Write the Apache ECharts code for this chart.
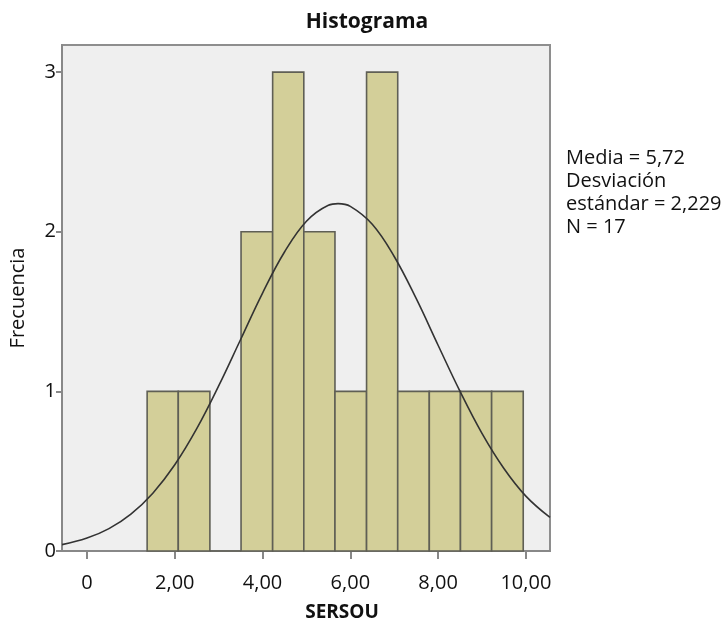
<!DOCTYPE html>
<html>
<head>
<meta charset="utf-8">
<script src="https://cdn.jsdelivr.net/npm/echarts@6/dist/echarts.min.js"></script>
<style>
  html, body { margin: 0; padding: 0; background: #fff; }
  #chart { width: 723px; height: 627px; }
</style>
</head>
<body>
<div id="chart"></div>
<script>
// bin edges (SERSOU) and counts per bin
var binEdges = [1.37, 2.08, 2.80, 3.51, 4.23, 4.94, 5.65, 6.37, 7.08, 7.80, 8.51, 9.22, 9.94]
var binCounts = [1, 1, 0, 2, 3, 2, 1, 3, 1, 1, 1, 1]

// normal curve
var curveX = [-0.57, 0, 0.5, 1, 1.5, 2, 2.5, 3, 3.5, 4, 4.5, 5, 5.5, 5.72, 6, 6.5, 7, 7.5, 8, 8.5, 9, 9.5, 10, 10.55]
var curveY = [0.04, 0.081, 0.14, 0.231, 0.362, 0.54, 0.766, 1.034, 1.325, 1.616, 1.873, 2.066, 2.166, 2.176, 2.159, 2.047, 1.845, 1.582, 1.289, 1.0, 0.737, 0.517, 0.344, 0.21]

var xTicks = [0, 2, 4, 6, 8, 10]
var xTickLabels = ['0', '2,00', '4,00', '6,00', '8,00', '10,00']
var yTicks = [0, 1, 2, 3]

var statsLines = ['Media = 5,72', 'Desviación', 'estándar = 2,229', 'N = 17']

var font = 'Open Sans'
var myChart = echarts.init(document.getElementById('chart'))

var bars = []
for (var i = 0; i < binCounts.length; i++) {
  bars.push([binEdges[i], binEdges[i + 1], binCounts[i]])
}
var curve = []
for (var j = 0; j < curveX.length; j++) {
  curve.push([curveX[j], curveY[j]])
}

// texto de estadísticos a la derecha
var stats = []
for (var k = 0; k < statsLines.length; k++) {
  stats.push({
    type: 'text',
    left: 566,
    top: 148 + k * 23,
    style: { text: statsLines[k], fill: '#111', font: '20px "' + font + '"' }
  })
}

var option = {
  animation: false,
  title: {
    text: 'Histograma',
    left: 362,
    top: 7,
    textAlign: 'center',
    textStyle: { fontFamily: font, fontSize: 21, fontWeight: 'bold', color: '#111' }
  },
  grid: {
    left: 62,
    right: 173,
    top: 45,
    bottom: 74,
    show: true,
    backgroundColor: '#efefef',
    borderColor: '#8e8e8e',
    borderWidth: 2
  },
  xAxis: {
    type: 'value',
    min: -0.57,
    max: 10.55,
    name: 'SERSOU',
    nameLocation: 'middle',
    nameGap: 52,
    nameTextStyle: { fontFamily: font, fontSize: 19, fontWeight: 'bold', color: '#111', padding: [0, 0, 0, 72] },
    splitLine: { show: false },
    axisLine: { onZero: false, lineStyle: { color: '#888', width: 2 } },
    axisTick: { customValues: xTicks, length: 8, lineStyle: { color: '#888', width: 2 } },
    axisLabel: {
      customValues: xTicks,
      margin: 22,
      fontFamily: font,
      fontSize: 20,
      color: '#111',
      formatter: function(v) {
        return xTickLabels[xTicks.indexOf(v)]
      }
    }
  },
  yAxis: {
    type: 'value',
    min: 0,
    max: 3.17,
    name: 'Frecuencia',
    nameLocation: 'middle',
    nameGap: 34,
    nameTextStyle: { fontFamily: font, fontSize: 20, color: '#111' },
    splitLine: { show: false },
    axisLine: { show: true, onZero: false, lineStyle: { color: '#888', width: 2 } },
    axisTick: { show: true, customValues: yTicks, length: 6, lineStyle: { color: '#888', width: 2 } },
    axisLabel: { customValues: yTicks, margin: 6, fontFamily: font, fontSize: 20, color: '#111' }
  },
  graphic: stats,
  series: [
    {
      type: 'custom',
      data: bars,
      renderItem: function(params, api) {
        var start = api.coord([api.value(0), api.value(2)])
        var end = api.coord([api.value(1), 0])
        return {
          type: 'rect',
          shape: { x: start[0], y: start[1], width: end[0] - start[0], height: end[1] - start[1] },
          style: { fill: '#d3cf99', stroke: '#5f5f55', lineWidth: 1.6 }
        }
      }
    },
    {
      type: 'line',
      data: curve,
      smooth: 0.4,
      showSymbol: false,
      lineStyle: { color: '#333', width: 1.6 },
      z: 3
    }
  ]
}
myChart.setOption(option)
</script>
</body>
</html>
